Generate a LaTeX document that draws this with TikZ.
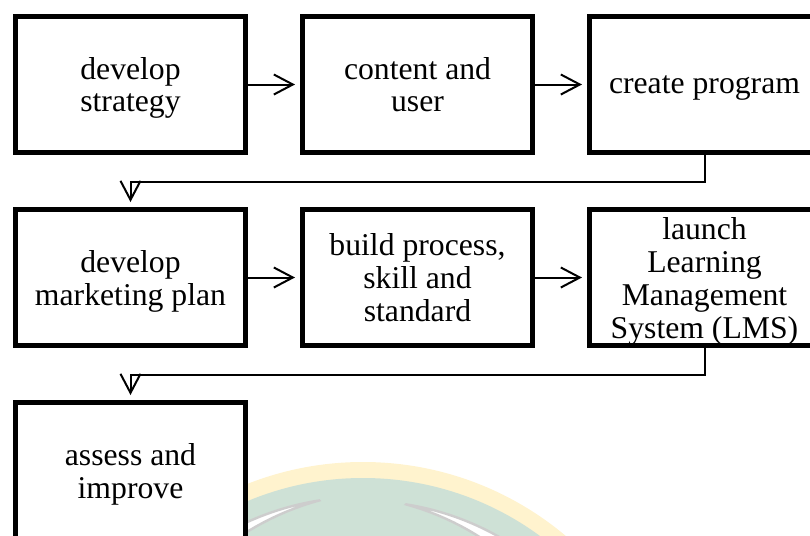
\documentclass[tikz,border=0pt]{standalone}
\usepackage{fontspec}
\setmainfont{Liberation Serif}
\usetikzlibrary{positioning,arrows.meta}
\definecolor{wmyellow}{RGB}{255,243,206}
\definecolor{wmgreen}{RGB}{206,225,214}
\definecolor{wmgray}{RGB}{205,205,205}

\begin{document}
\begin{tikzpicture}[node distance=26pt,
  stage/.style={draw, rectangle, line width=2.3pt, fill=white, minimum width=115.2pt, minimum height=68.2pt,
    inner sep=0pt, align=center, text depth=-1.7pt, font=\fontsize{15.85pt}{16.5pt}\selectfont},
  flow/.style={-{Straight Barb[length=9.5pt,width=10pt]}, line width=1pt, shorten >=2.5pt}]
  \useasboundingbox (0,0) rectangle (405pt,-268pt);
  \clip (0,0) rectangle (405pt,-268pt);

  % faint watermark behind the chart
  \coordinate (wm) at (181.5pt,-388.5pt);
  \fill[wmyellow] (wm) circle (157.5pt);
  \fill[wmgreen] (wm) circle (149.5pt);
  \begin{scope}[shift={(wm)}, fill=white, draw=wmgray, line width=1.2pt]
    \filldraw (99:140pt) arc (99:150:140pt)
      -- plot[domain=150:99, samples=30] (\x:{(140-0.27*(\x-99))*1pt}) -- cycle;
    \filldraw (81:138pt) arc (81:30:138pt)
      -- plot[domain=30:81, samples=30] (\x:{(138-0.27*(81-\x))*1pt}) -- cycle;
  \end{scope}

  \node[stage, anchor=north west] (strat) at (6.5pt,-7pt) {develop\\strategy};
  \node[stage, right=of strat] (content) {content and\\user};
  \node[stage, right=of content] (prog) {create program};
  \node[stage, below=of strat] (mkt) {develop\\marketing plan};
  \node[stage, right=of mkt] (build) {build process,\\skill and\\standard};
  \node[stage, right=of build] (lms) {launch\\Learning\\Management\\System (LMS)};
  \node[stage, below=of mkt] (assess) {assess and\\improve};

  \draw[flow] (strat) -- (content);
  \draw[flow] (content) -- (prog);
  \draw[flow] (prog.south) -- ++(0,-13.5pt) -| (mkt.north);
  \draw[flow] (mkt) -- (build);
  \draw[flow] (build) -- (lms);
  \draw[flow] (lms.south) -- ++(0,-13.5pt) -| (assess.north);
\end{tikzpicture}
\end{document}
